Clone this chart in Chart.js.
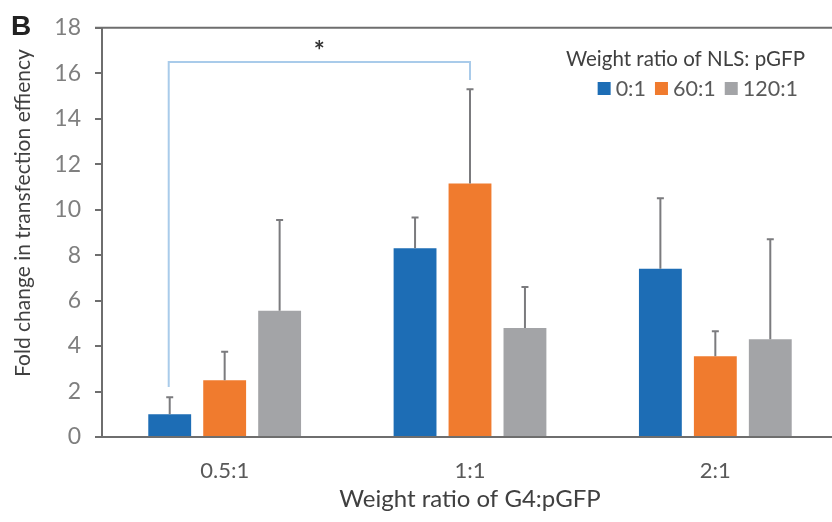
<!DOCTYPE html>
<html>
<head>
<meta charset="utf-8">
<script src="https://cdn.jsdelivr.net/npm/chart.js@4"></script>
<style>
html,body{margin:0;padding:0;background:#fff;overflow:hidden;width:832px;height:522px;}
#wrap{position:absolute;left:0;top:0;width:840px;height:522px;}
</style>
</head>
<body>
<div id="wrap"><canvas id="c" width="840" height="522"></canvas></div>
<script>
const categories = ['0.5:1', '1:1', '2:1'];
const seriesNames = ['0:1', '60:1', '120:1'];
const means0 = [1.0, 8.3, 7.4];
const means60 = [2.5, 11.15, 3.55];
const means120 = [5.55, 4.8, 4.3];
const errors0 = [0.75, 1.35, 3.1];
const errors60 = [1.25, 4.15, 1.1];
const errors120 = [4.0, 1.8, 4.4];
const yTicks = [0, 2, 4, 6, 8, 10, 12, 14, 16, 18];
const panelLabel = 'B';
const xTitle = 'Weight ratio of G4:pGFP';
const yTitle = 'Fold change in transfection effiency';
const legendTitle = 'Weight ratio of NLS: pGFP';
// significance bracket: between series 0 / category 0 and series 1 / category 1
const bracketFrom = [0, 0];
const bracketTo = [1, 1];
const bracketLevels = [2.2, 16.5, 15.7]; // left end, top, right end (y values)
const bracketMark = '*';

const colors = ['#1d6db5', '#f07b2e', '#a3a4a7'];
const FONT = 'Lato, "Open Sans", sans-serif';

const allErrors = [errors0, errors60, errors120];

const extras = {
  id: 'extras',
  afterDatasetsDraw(chart) {
    const ctx = chart.ctx;
    const y = chart.scales.y;
    ctx.save();
    // error bars
    ctx.strokeStyle = '#7b7b7e';
    ctx.lineWidth = 2;
    chart.data.datasets.forEach((ds, i) => {
      const meta = chart.getDatasetMeta(i);
      meta.data.forEach((bar, j) => {
        const top = y.getPixelForValue(ds.data[j]);
        const up = y.getPixelForValue(ds.data[j] + allErrors[i][j]);
        ctx.beginPath();
        ctx.moveTo(bar.x, top);
        ctx.lineTo(bar.x, up);
        ctx.moveTo(bar.x - 3.5, up);
        ctx.lineTo(bar.x + 3.5, up);
        ctx.stroke();
      });
    });
    // bracket
    const b0 = chart.getDatasetMeta(bracketFrom[0]).data[bracketFrom[1]];
    const b1 = chart.getDatasetMeta(bracketTo[0]).data[bracketTo[1]];
    const x0 = b0.x - 1, x1 = b1.x;
    ctx.strokeStyle = '#a9cbea';
    ctx.lineWidth = 2;
    ctx.beginPath();
    ctx.moveTo(x0, y.getPixelForValue(bracketLevels[0]));
    ctx.lineTo(x0, y.getPixelForValue(bracketLevels[1]));
    ctx.lineTo(x1, y.getPixelForValue(bracketLevels[1]));
    ctx.lineTo(x1, y.getPixelForValue(bracketLevels[2]));
    ctx.stroke();
    ctx.fillStyle = '#333';
    ctx.font = 'bold 26px ' + FONT;
    ctx.textAlign = 'center';
    ctx.textBaseline = 'middle';
    ctx.fillText(bracketMark, (x0 + x1) / 2, y.getPixelForValue(bracketLevels[1]) - 10);
    ctx.restore();
  },
  afterDraw(chart) {
    const ctx = chart.ctx;
    const area = chart.chartArea;
    ctx.save();
    // top border
    ctx.strokeStyle = '#6e6e6e';
    ctx.lineWidth = 2;
    ctx.beginPath();
    ctx.moveTo(95, area.top);
    ctx.lineTo(chart.width, area.top);
    ctx.stroke();
    // panel label
    ctx.fillStyle = '#222';
    ctx.font = 'bold 28px "Liberation Sans", Arial, sans-serif';
    ctx.textAlign = 'left';
    ctx.textBaseline = 'alphabetic';
    ctx.fillText(panelLabel, 11, 35);
    // y title
    ctx.fillStyle = '#404040';
    ctx.font = '21px ' + FONT;
    ctx.textAlign = 'center';
    ctx.textBaseline = 'middle';
    ctx.translate(23, 213);
    ctx.rotate(-Math.PI / 2);
    ctx.fillText(yTitle, 0, 0);
    ctx.setTransform(1, 0, 0, 1, 0, 0);
    // x title
    ctx.font = '24px ' + FONT;
    ctx.fillText(xTitle, (area.left + area.right) / 2, 499);
    // legend
    ctx.font = '20.5px ' + FONT;
    ctx.fillStyle = '#404040';
    ctx.textAlign = 'right';
    ctx.fillText(legendTitle, 805, 59);
    ctx.font = '21.5px ' + FONT;
    let xr = 798;
    const items = seriesNames.map((n, i) => ({n, c: colors[i]}));
    for (let k = items.length - 1; k >= 0; k--) {
      const w = ctx.measureText(items[k].n).width;
      ctx.textAlign = 'right';
      ctx.fillStyle = '#595959';
      ctx.fillText(items[k].n, xr, 89);
      const sx = xr - w - 5 - 13;
      ctx.fillStyle = items[k].c;
      ctx.fillRect(sx, 82, 13, 13);
      xr = sx - 9;
    }
    ctx.restore();
  }
};

new Chart(document.getElementById('c'), {
  type: 'bar',
  data: {
    labels: categories,
    datasets: [
      {label: seriesNames[0], data: means0, backgroundColor: colors[0]},
      {label: seriesNames[1], data: means60, backgroundColor: colors[1]},
      {label: seriesNames[2], data: means120, backgroundColor: colors[2]}
    ]
  },
  options: {
    responsive: false,
    animation: false,
    devicePixelRatio: 1,
    layout: {padding: {top: 27, right: 2, left: 0, bottom: 0}},
    categoryPercentage: 0.672,
    barPercentage: 0.78,
    plugins: {legend: {display: false}, tooltip: {enabled: false}},
    scales: {
      x: {
        grid: {display: false, drawTicks: false},
        border: {display: true, color: '#6e6e6e', width: 2},
        ticks: {color: '#595959', font: {family: FONT, size: 22}, padding: 21},
        afterFit(s) { s.height = 85; }
      },
      y: {
        min: 0, max: 18,
        afterBuildTicks(s) { s.ticks = yTicks.map(v => ({value: v})); },
        grid: {drawOnChartArea: false, drawTicks: true, tickLength: 7, color: '#6e6e6e', lineWidth: 2},
        border: {display: true, color: '#6e6e6e', width: 2},
        ticks: {color: '#7f7f7f', font: {family: FONT, size: 23}, padding: 14},
        afterFit(s) { s.width = 102; }
      }
    }
  },
  plugins: [extras]
});
</script>
</body>
</html>
